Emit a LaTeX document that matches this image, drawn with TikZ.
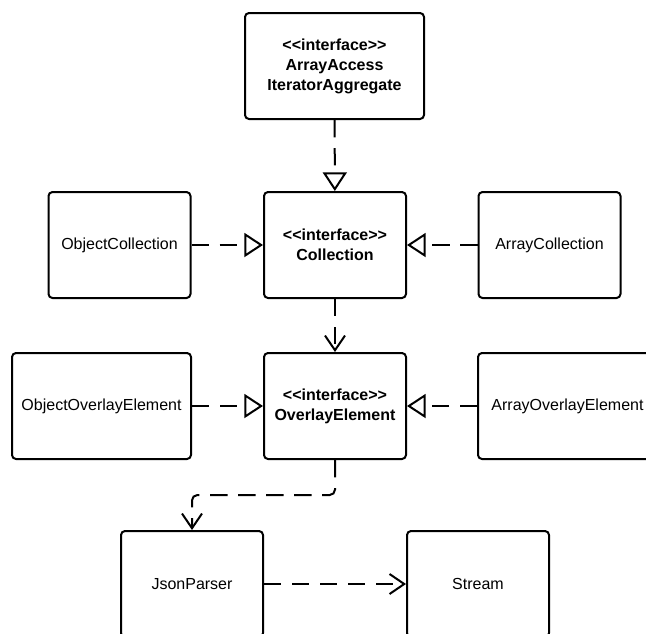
\documentclass[tikz,border=0pt]{standalone}
\usepackage{fontspec}
\newfontfamily\umlfont{Liberation Sans}
\usepackage{xcolor}
\definecolor{cLine}{HTML}{000000}
\usetikzlibrary{positioning,arrows.meta,calc}
\tikzset{
  node-class/.style={draw=cLine,line width=1.5pt,rounded corners=3pt,
    minimum width=106.5pt,minimum height=79.5pt,align=center,
    font=\umlfont\fontsize{12}{15}\selectfont},
  node-wide/.style={node-class,minimum width=134.25pt},
  node-iface/.style={font=\umlfont\bfseries\fontsize{12}{15}\selectfont},
  % realisation: dashed line, hollow triangle
  arrow-real/.style={-{Triangle[open,length=14pt,width=18pt]},
    line width=1.5pt,dash pattern=on 13pt off 8pt,draw=cLine},
  % dependency: dashed line, open barb
  arrow-dep/.style={-{Straight Barb[length=11pt,width=15pt]},
    line width=1.5pt,dash pattern=on 13pt off 8pt,draw=cLine},
}

\begin{document}
\begin{tikzpicture}[x=0.75pt,y=-0.75pt]
  \useasboundingbox (0,0) rectangle (646,633);
  \clip (0,0) rectangle (646,633);

  % interfaces down the middle
  \node[node-wide,node-iface] (base) at (334.5,66)
    {<<interface>>\\ArrayAccess\\IteratorAggregate};
  \node[node-class,node-iface] (coll) at (335,245)
    {<<interface>>\\Collection};
  \node[node-class,node-iface] (ovl) at (335,406)
    {<<interface>>\\OverlayElement};

  % implementations either side
  \node[node-class] (objColl) at (119.5,245) {ObjectCollection};
  \node[node-class] (arrColl) at (549.5,245) {ArrayCollection};
  \node[node-wide]  (objOvl)  at (101.5,406) {ObjectOverlayElement};
  \node[node-wide]  (arrOvl)  at (567.5,406) {ArrayOverlayElement};

  % parser row
  \node[node-class] (parser) at (192,584) {JsonParser};
  \node[node-class] (stream) at (478,584) {Stream};

  \draw[arrow-real] (base) -- (coll);
  \draw[arrow-real] (objColl) -- (coll);
  \draw[arrow-real] (arrColl) -- (coll);
  \draw[arrow-dep]  (coll) -- (ovl);
  \draw[arrow-real] (objOvl) -- (ovl);
  \draw[arrow-real] (arrOvl) -- (ovl);
  \draw[arrow-dep,rounded corners=4pt] (ovl.south) -- ++(0,35) -| (parser.north);
  \draw[arrow-dep]  (parser) -- (stream);
\end{tikzpicture}
\end{document}
